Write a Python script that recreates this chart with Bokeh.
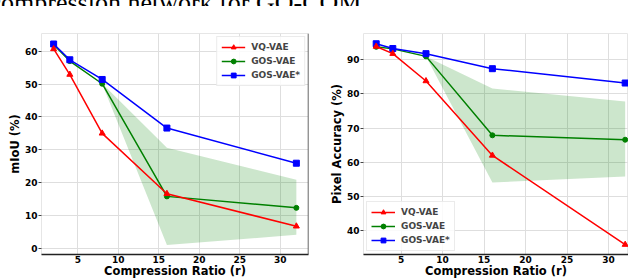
from bokeh.plotting import figure
from bokeh.layouts import column, row
from bokeh.models import Span, Legend, LegendItem, FixedTicker
from bokeh.core.properties import value
from bokeh.embed import file_html
from bokeh.resources import INLINE

# ---- data ----
ratio = [2, 4, 8, 16, 32]

miou_vq = [60.7, 52.9, 35.0, 16.6, 6.7]
miou_gos = [62.0, 57.0, 50.1, 15.8, 12.3]
miou_gos_star = [62.2, 57.4, 51.4, 36.6, 25.9]
miou_band_low = [62.0, 56.8, 50.0, 1.0, 4.1]
miou_band_high = [62.0, 57.2, 50.2, 30.6, 20.9]

pa_vq = [93.9, 91.8, 83.8, 62.0, 35.9]
pa_gos = [93.8, 93.2, 91.0, 67.9, 66.6]
pa_gos_star = [94.7, 93.3, 91.8, 87.4, 83.2]
pa_band_low = [93.8, 93.2, 91.0, 54.1, 55.8]
pa_band_high = [93.8, 93.2, 91.0, 81.6, 77.8]

x_ticks = [5, 10, 15, 20, 25, 30]
miou_ticks = [0, 10, 20, 30, 40, 50, 60]
pa_ticks = [40, 50, 60, 70, 80, 90]

series_names = ["VQ-VAE", "GOS-VAE", "GOS-VAE*"]
x_title = "Compression Ratio (r)"
caption = "compression network for GO-COM."

FONT = "DejaVu Sans"
RED, GREEN, BLUE = "#ff0000", "#008000", "#0000ff"
BAND = "#008000"


def make_chart(width, min_left, min_right, xr, yr, yticks, ylabel,
               vq, gos, gos_star, low, high, legend_loc, margin):
    p = figure(width=width, height=266, x_range=xr, y_range=yr,
               output_backend="svg", toolbar_location=None,
               min_border_left=min_left, min_border_right=min_right,
               min_border_top=19, min_border_bottom=26,
               margin=margin)
    p.background_fill_color = "white"
    p.border_fill_color = "white"
    p.outline_line_color = "#e6e6e6"
    p.xgrid.ticker = FixedTicker(ticks=x_ticks)
    p.ygrid.ticker = FixedTicker(ticks=yticks)
    p.grid.grid_line_color = "#dedede"
    p.grid.grid_line_width = 1

    p.xaxis.ticker = FixedTicker(ticks=x_ticks)
    p.yaxis.ticker = FixedTicker(ticks=yticks)
    for ax in (p.xaxis[0], p.yaxis[0]):
        ax.major_label_text_font = FONT
        ax.major_label_text_font_style = "bold"
        ax.major_label_text_font_size = "9px"
        ax.major_label_text_color = "black"
        ax.axis_label_text_font = FONT
        ax.axis_label_text_font_style = "bold"
        ax.axis_label_text_font_size = "11.5px"
        ax.axis_label_text_color = "black"
        ax.minor_tick_line_color = None
        ax.major_tick_in = 0
    p.xaxis.major_tick_out = 0
    p.xaxis.major_label_standoff = 1
    p.xaxis.axis_label = x_title
    p.xaxis.axis_label_standoff = -2
    p.xaxis.axis_line_color = "#222222"
    p.xaxis.axis_line_width = 1.5
    p.yaxis.major_tick_out = 3
    p.yaxis.major_tick_line_color = "#444444"
    p.yaxis.major_label_standoff = 1
    p.yaxis.axis_label = ylabel
    p.yaxis.axis_label_standoff = 0
    p.yaxis.axis_line_color = None

    p.varea(x=ratio, y1=low, y2=high, fill_color=BAND, fill_alpha=0.2)

    r_gos_l = p.line(ratio, gos, line_color=GREEN, line_width=1.5)
    r_gos_m = p.scatter(ratio, gos, marker="circle", size=5,
                        fill_color=GREEN, line_color=GREEN)
    r_star_l = p.line(ratio, gos_star, line_color=BLUE, line_width=1.5)
    r_star_m = p.scatter(ratio, gos_star, marker="square", size=6,
                         fill_color=BLUE, line_color=BLUE)
    r_vq_l = p.line(ratio, vq, line_color=RED, line_width=1.5)
    r_vq_m = p.scatter(ratio, vq, marker="triangle", size=6,
                       fill_color=RED, line_color=RED)

    legend = Legend(items=[
        LegendItem(label=series_names[0], renderers=[r_vq_l, r_vq_m]),
        LegendItem(label=series_names[1], renderers=[r_gos_l, r_gos_m]),
        LegendItem(label=series_names[2], renderers=[r_star_l, r_star_m]),
    ], location=legend_loc)
    legend.label_text_font = FONT
    legend.label_text_font_style = "bold"
    legend.label_text_font_size = "9px"
    legend.label_height = 12
    legend.glyph_height = 12
    legend.glyph_width = 24
    legend.spacing = 2
    legend.padding = 4
    legend.margin = 3
    legend.label_standoff = 6
    legend.border_line_color = "#d8d8d8"
    legend.border_line_width = 1
    legend.background_fill_alpha = 0.85
    p.add_layout(legend)
    return p


left = make_chart(322, 32, 18, (0.5, 33.5), (-1.9, 65.4), miou_ticks,
                  "mIoU (%)", miou_vq, miou_gos, miou_gos_star,
                  miou_band_low, miou_band_high, "top_right", (0, 0, -8, 4))
left.add_layout(Span(location=33.5, dimension="height",
                     line_color="#444444", line_width=1.5))

right = make_chart(302, 37, 0, (0.47, 32.4), (33.0, 97.7), pa_ticks,
                   "Pixel Accuracy (%)", pa_vq, pa_gos, pa_gos_star,
                   pa_band_low, pa_band_high, "bottom_left", (0, 0, -8, 0))

cap = figure(width=400, height=14, x_range=(0, 400), y_range=(0, 14),
             output_backend="svg", toolbar_location=None,
             x_axis_type=None, y_axis_type=None, min_border=0,
             margin=(-8, 0, 8, -8))
cap.grid.visible = False
cap.outline_line_color = None
cap.text(x=[-3], y=[4], text=[caption],
         text_font=value("Liberation Serif"), text_font_style="normal",
         text_font_size="26px", text_baseline="alphabetic", text_color="black")

layout = column(cap, row(left, right))

with open("out.html", "w") as f:
    f.write(file_html(layout, INLINE))
